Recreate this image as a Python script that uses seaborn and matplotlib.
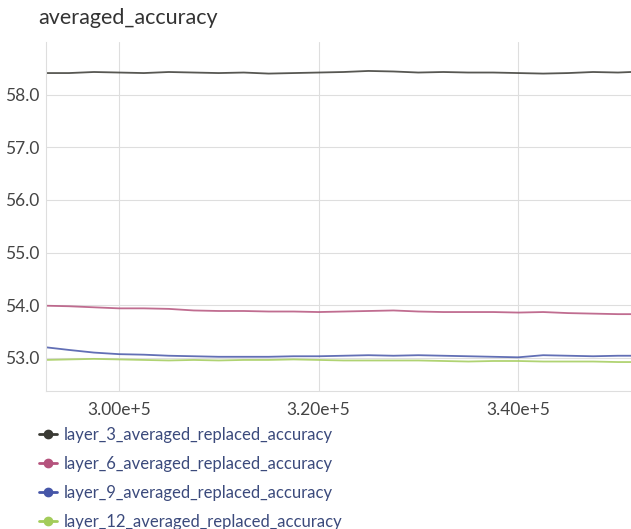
import numpy as np
import pandas as pd
import matplotlib
matplotlib.use("Agg")
import matplotlib.pyplot as plt
from matplotlib.ticker import FuncFormatter, FormatStrFormatter
import seaborn as sns

# steps on the x axis
steps = [292700, 295000, 297500, 300000, 302500, 305000, 307500, 310000, 312500,
         315000, 317500, 320000, 322500, 325000, 327500, 330000, 332500, 335000,
         337500, 340000, 342500, 345000, 347500, 350000, 351300]

layer_3 = [58.41, 58.41, 58.43, 58.42, 58.41, 58.43, 58.42, 58.41, 58.42, 58.40,
           58.41, 58.42, 58.43, 58.45, 58.44, 58.42, 58.43, 58.42, 58.42, 58.41,
           58.40, 58.41, 58.43, 58.42, 58.43]
layer_6 = [53.99, 53.98, 53.96, 53.94, 53.94, 53.93, 53.90, 53.89, 53.89, 53.88,
           53.88, 53.87, 53.88, 53.89, 53.90, 53.88, 53.87, 53.87, 53.87, 53.86,
           53.87, 53.85, 53.84, 53.83, 53.83]
layer_9 = [53.20, 53.15, 53.10, 53.07, 53.06, 53.04, 53.03, 53.02, 53.02, 53.02,
           53.03, 53.03, 53.04, 53.05, 53.04, 53.05, 53.04, 53.03, 53.02, 53.01,
           53.05, 53.04, 53.03, 53.04, 53.04]
layer_12 = [52.96, 52.97, 52.98, 52.97, 52.96, 52.95, 52.96, 52.95, 52.96, 52.96,
            52.97, 52.96, 52.95, 52.95, 52.95, 52.95, 52.94, 52.93, 52.94, 52.94,
            52.93, 52.93, 52.93, 52.92, 52.92]

names = ["layer_3_averaged_replaced_accuracy", "layer_6_averaged_replaced_accuracy",
         "layer_9_averaged_replaced_accuracy", "layer_12_averaged_replaced_accuracy"]
colors = ["#3a3a34", "#b5537d", "#4656a8", "#a3cc5a"]

df = pd.DataFrame({"step": steps, names[0]: layer_3, names[1]: layer_6,
                   names[2]: layer_9, names[3]: layer_12})
long = df.melt(id_vars="step", var_name="run", value_name="acc")

sns.set_style("whitegrid", {"grid.color": "#dedede", "axes.edgecolor": "#dedede"})
plt.rcParams["font.family"] = ["Lato", "DejaVu Sans"]

fig = plt.figure(figsize=(6.31, 5.29), dpi=100)
ax = fig.add_axes([46 / 631, 1 - 391 / 529, 585 / 631, 349 / 529])

sns.lineplot(data=long, x="step", y="acc", hue="run", palette=colors,
             linewidth=1.3, alpha=0.85, ax=ax, legend=False)

ax.set_xlim(292700, 351300)
ax.set_ylim(52.37, 59.0)
ax.set_xticks([300000, 320000, 340000])
ax.set_yticks([53, 54, 55, 56, 57, 58])
ax.xaxis.set_major_formatter(FuncFormatter(lambda v, p: "%.2fe+5" % (v / 1e5)))
ax.yaxis.set_major_formatter(FormatStrFormatter("%.1f"))
ax.tick_params(axis="both", length=0, labelsize=12.5, colors="#444444")
ax.tick_params(axis="x", pad=8)
ax.tick_params(axis="y", pad=5)
ax.set_xlabel("")
ax.set_ylabel("")
for s in ["top", "right"]:
    ax.spines[s].set_visible(False)
ax.spines["left"].set_color("#dedede")
ax.spines["bottom"].set_color("#dedede")

fig.text(38 / 631, 1 - 18 / 529, "averaged_accuracy", fontsize=15.5,
         color="#333333", va="center", ha="left")

handles = [plt.Line2D([], [], color=c, marker="o", markersize=6, linewidth=2)
           for c in colors]
leg = fig.legend(handles, names, loc="upper left",
                 bbox_to_anchor=(32 / 631, 1 - 420 / 529), frameon=False,
                 fontsize=12, handlelength=1.1, handletextpad=0.4,
                 labelspacing=0.78, borderaxespad=0)
for t in leg.get_texts():
    t.set_color("#3b4a7c")

fig.savefig("out.png", dpi=100)
